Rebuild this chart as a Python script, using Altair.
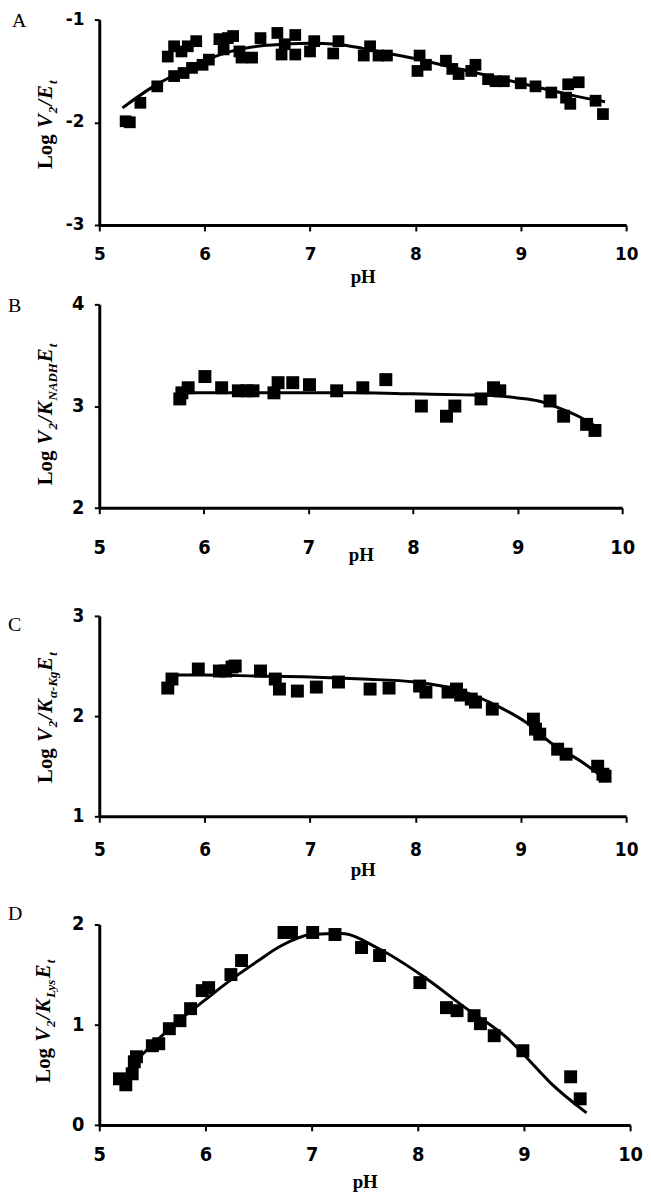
import altair as alt
import pandas as pd

# ---------------- Panel A : Log V2/Et ----------------
a_ph = [5.25, 5.29, 5.39, 5.55, 5.65, 5.71, 5.71, 5.78, 5.80, 5.84, 5.88, 5.92, 5.98, 6.04,
        6.14, 6.18, 6.22, 6.27, 6.33, 6.35, 6.45, 6.53, 6.69, 6.73, 6.76, 6.86, 6.86, 7.00,
        7.04, 7.22, 7.27, 7.51, 7.57, 7.65, 7.73, 8.02, 8.04, 8.10, 8.29, 8.35, 8.41, 8.53,
        8.57, 8.69, 8.76, 8.84, 9.00, 9.14, 9.29, 9.43, 9.45, 9.47, 9.55, 9.71, 9.78]
a_val = [-1.99, -2.00, -1.81, -1.65, -1.36, -1.55, -1.26, -1.31, -1.52, -1.26, -1.47, -1.21, -1.44, -1.39,
         -1.19, -1.29, -1.18, -1.16, -1.31, -1.37, -1.37, -1.18, -1.13, -1.34, -1.24, -1.15, -1.34, -1.31,
         -1.21, -1.33, -1.21, -1.35, -1.26, -1.35, -1.35, -1.50, -1.35, -1.44, -1.40, -1.48, -1.53, -1.50,
         -1.44, -1.58, -1.60, -1.60, -1.62, -1.65, -1.71, -1.76, -1.63, -1.82, -1.61, -1.79, -1.92]
a_fit_ph = [5.22, 5.5, 5.75, 6.0, 6.25, 6.5, 6.75, 7.0, 7.25, 7.5, 7.75, 8.0, 8.25, 8.5, 8.75,
            9.0, 9.25, 9.5, 9.8]
a_fit_val = [-1.86, -1.66, -1.52, -1.40, -1.31, -1.26, -1.24, -1.23, -1.24, -1.28, -1.33, -1.38,
             -1.44, -1.50, -1.56, -1.62, -1.68, -1.74, -1.80]
a_yticks = [-3, -2, -1]
a_ylabels = ["-3", "-2", "-1"]

# ---------------- Panel B : Log V2/K_NADH Et ----------------
b_ph = [5.77, 5.79, 5.85, 6.01, 6.17, 6.33, 6.41, 6.47, 6.67, 6.71, 6.85, 7.01, 7.27, 7.52,
        7.74, 8.08, 8.32, 8.40, 8.65, 8.77, 8.83, 9.31, 9.44, 9.66, 9.74]
b_val = [3.07, 3.13, 3.18, 3.29, 3.18, 3.15, 3.15, 3.15, 3.13, 3.23, 3.23, 3.21, 3.15, 3.18,
         3.26, 3.00, 2.90, 3.00, 3.07, 3.18, 3.15, 3.05, 2.90, 2.82, 2.76]
b_fit_ph = [5.77, 6.5, 7.0, 7.5, 8.0, 8.5, 8.8, 9.0, 9.2, 9.4, 9.6, 9.78]
b_fit_val = [3.13, 3.13, 3.13, 3.13, 3.12, 3.11, 3.10, 3.08, 3.05, 2.98, 2.89, 2.78]
b_yticks = [2, 3, 4]
b_ylabels = ["2", "3", "4"]

# ---------------- Panel C : Log V2/K_a-Kg Et ----------------
c_ph = [5.65, 5.69, 5.94, 6.14, 6.20, 6.26, 6.29, 6.53, 6.67, 6.71, 6.88, 7.06, 7.27, 7.57,
        7.75, 8.04, 8.10, 8.31, 8.39, 8.43, 8.53, 8.57, 8.73, 9.12, 9.14, 9.18, 9.35, 9.43,
        9.73, 9.78, 9.80]
c_val = [2.28, 2.37, 2.47, 2.45, 2.45, 2.49, 2.50, 2.45, 2.37, 2.27, 2.25, 2.29, 2.34, 2.27,
         2.28, 2.30, 2.24, 2.24, 2.27, 2.21, 2.17, 2.14, 2.07, 1.97, 1.87, 1.82, 1.67, 1.62,
         1.50, 1.42, 1.40]
c_fit_ph = [5.69, 6.0, 6.5, 7.0, 7.5, 8.0, 8.47, 8.78, 9.06, 9.29, 9.57, 9.82]
c_fit_val = [2.41, 2.41, 2.40, 2.39, 2.37, 2.34, 2.24, 2.10, 1.93, 1.73, 1.55, 1.36]
c_yticks = [1, 2, 3]
c_ylabels = ["1", "2", "3"]

# ---------------- Panel D : Log V2/K_Lys Et ----------------
d_ph = [5.19, 5.25, 5.31, 5.33, 5.35, 5.50, 5.56, 5.66, 5.76, 5.86, 5.97, 6.03, 6.24, 6.34,
        6.74, 6.81, 7.01, 7.22, 7.47, 7.64, 8.02, 8.27, 8.37, 8.53, 8.59, 8.72, 8.99, 9.44, 9.53]
d_val = [0.46, 0.40, 0.51, 0.63, 0.68, 0.79, 0.81, 0.96, 1.04, 1.16, 1.34, 1.37, 1.50, 1.64,
         1.92, 1.92, 1.92, 1.90, 1.77, 1.69, 1.42, 1.17, 1.14, 1.09, 1.01, 0.89, 0.74, 0.48, 0.26]
d_fit_ph = [5.28, 5.5, 5.75, 6.0, 6.23, 6.5, 6.7, 7.0, 7.28, 7.63, 8.04, 8.42, 8.87, 9.0, 9.25, 9.59]
d_fit_val = [0.57, 0.80, 1.04, 1.25, 1.44, 1.64, 1.78, 1.90, 1.91, 1.76, 1.49, 1.19, 0.84, 0.70, 0.42, 0.12]
d_yticks = [0, 1, 2]
d_ylabels = ["0", "1", "2"]

x_ticks = [5, 6, 7, 8, 9, 10]

# text metrics (Times / Liberation Serif, per 1000 em)
W_B = {"L": 667, "o": 500, "g": 500, " ": 250}
W_BI = {"V": 667, "2": 500, "/": 278, "E": 667, "K": 667, "t": 278, "N": 722, "A": 667,
        "D": 722, "H": 778, "L": 611, "y": 444, "s": 389, "g": 500, "-": 333, "α": 540}

one = pd.DataFrame({"k": [0]})


def twidth(s, bold_only, size):
    tbl = W_B if bold_only else W_BI
    return sum(tbl.get(ch, 500) for ch in s) * size / 1000.0


def panel(cfg):
    W, H = cfg["w"], cfg["h"]
    pts = pd.DataFrame({"ph": cfg["ph"], "v": cfg["val"]})
    fit = pd.DataFrame({"ph": cfg["fit_ph"], "v": cfg["fit_val"]})
    ylab = pd.DataFrame({"v": cfg["yticks"], "lab": cfg["ylabels"]})
    lab_font = cfg["lab_font"]
    lfs = cfg["lab_size"]
    xaxis = alt.Axis(values=x_ticks, format="d", grid=False, domainColor="black",
                     domainWidth=3, tickColor="black", tickWidth=2, tickSize=6,
                     labelFont=lab_font, labelFontSize=lfs, labelFontWeight="bold",
                     labelColor="black", labelPadding=cfg["xpad"], labelFlush=False,
                     labelOverlap=False, title="pH", titleFont="Liberation Serif",
                     titleFontSize=19, titleFontWeight="bold", titleColor="black",
                     titleY=cfg["title_y"], titleBaseline="alphabetic")
    yaxis = alt.Axis(values=cfg["yticks"], grid=False, domainColor="black",
                     domainWidth=3, tickColor="black", tickWidth=2, tickSize=5,
                     labels=False, title=None)
    xenc = alt.X("ph:Q", scale=alt.Scale(domain=[5, 10], nice=False, zero=False), axis=xaxis)
    yenc = alt.Y("v:Q", scale=alt.Scale(domain=cfg["ydom"], nice=False, zero=False), axis=yaxis)
    spacer = alt.Chart(one).mark_rule(color="white", strokeWidth=1).encode(
        x=alt.value(-91.5), y=alt.value(-cfg["top_ext"]), y2=alt.value(H + cfg["bot_ext"]))
    points = alt.Chart(pts).mark_square(color="black", size=cfg["msize"], opacity=1).encode(
        x=xenc, y=yenc)
    line = alt.Chart(fit).mark_line(color="black", strokeWidth=3, interpolate="monotone").encode(
        x=xenc, y=yenc)
    ylabels = alt.Chart(ylab).mark_text(font=lab_font, fontSize=lfs, fontWeight="bold",
                                        align="right", baseline="middle", color="black").encode(
        y=yenc, x=alt.value(-15), text="lab:N")
    letter = alt.Chart(one).mark_text(text=cfg["letter"], font="Liberation Serif", fontSize=20,
                                      align="left", baseline="middle", color="black").encode(
        x=alt.value(cfg["letter_x"]), y=alt.value(cfg["letter_y"]))
    layers = [spacer, points, line, ylabels, letter]
    # rotated composite y title
    main, sub = cfg["tsize"], 13
    widths = []
    for txt, bonly, is_sub in cfg["pieces"]:
        widths.append(twidth(txt, bonly, sub if is_sub else main) + 1.0)
    total = sum(widths)
    cur = H / 2 + total / 2 + cfg["tshift"]
    for (txt, bonly, is_sub), wdt in zip(cfg["pieces"], widths):
        layers.append(
            alt.Chart(one).mark_text(
                text=txt.strip(), font="Liberation Serif",
                fontSize=sub if is_sub else main, fontWeight="bold",
                fontStyle="normal" if bonly else "italic", angle=270, align="left",
                baseline="alphabetic", color="black").encode(
                x=alt.value(cfg["tx"] + (5 if is_sub else 0)), y=alt.value(cur)))
        cur -= wdt
    return alt.layer(*layers).properties(width=W, height=H)


head = [("Log ", True, False), ("V", False, False), ("2", False, True), ("/", False, False)]
tail = [("E", False, False), ("t", False, True)]

NARROW = "DejaVu Sans Condensed, DejaVu Sans, sans-serif"

cfgA = dict(w=531, h=207, ph=a_ph, val=a_val, fit_ph=a_fit_ph, fit_val=a_fit_val,
            ydom=[-3, -1], yticks=a_yticks, ylabels=a_ylabels, msize=140,
            lab_font="DejaVu Sans", lab_size=17,
            xpad=16, title_y=58, letter="A", letter_x=-88, letter_y=1, top_ext=8, bot_ext=63,
            pieces=head + tail, tsize=21, tshift=2, tx=-48)
cfgB = dict(w=527, h=205, ph=b_ph, val=b_val, fit_ph=b_fit_ph, fit_val=b_fit_val,
            ydom=[2, 4], yticks=b_yticks, ylabels=b_ylabels, msize=170, lab_font=NARROW,
            lab_size=20,
            xpad=24, title_y=53, letter="B", letter_x=-92, letter_y=2, top_ext=15, bot_ext=63,
            pieces=head + [("K", False, False), ("NADH", False, True)] + tail, tsize=21,
            tshift=8, tx=-48)
cfgC = dict(w=531, h=202, ph=c_ph, val=c_val, fit_ph=c_fit_ph, fit_val=c_fit_val,
            ydom=[1, 3], yticks=c_yticks, ylabels=c_ylabels, msize=170, lab_font=NARROW,
            lab_size=19,
            xpad=18, title_y=60, letter="C", letter_x=-92, letter_y=9, top_ext=44, bot_ext=70,
            pieces=head + [("K", False, False), ("α-Kg", False, True)] + tail, tsize=21,
            tshift=1, tx=-48)
cfgD = dict(w=535, h=202, ph=d_ph, val=d_val, fit_ph=d_fit_ph, fit_val=d_fit_val,
            ydom=[0, 2], yticks=d_yticks, ylabels=d_ylabels, msize=170, lab_font=NARROW,
            lab_size=20,
            xpad=14, title_y=63, letter="D", letter_x=-92, letter_y=-11, top_ext=37, bot_ext=70,
            pieces=head + [("K", False, False), ("Lys", False, True)] + tail, tsize=21,
            tshift=-4, tx=-50)

chart = alt.vconcat(panel(cfgA), panel(cfgB), panel(cfgC), panel(cfgD), spacing=0).properties(
    padding={"left": 0, "top": -2, "right": 0, "bottom": 0},
    background="white").configure_view(strokeWidth=0)

chart.save("out.html", embed_options={"renderer": "svg", "actions": False})
